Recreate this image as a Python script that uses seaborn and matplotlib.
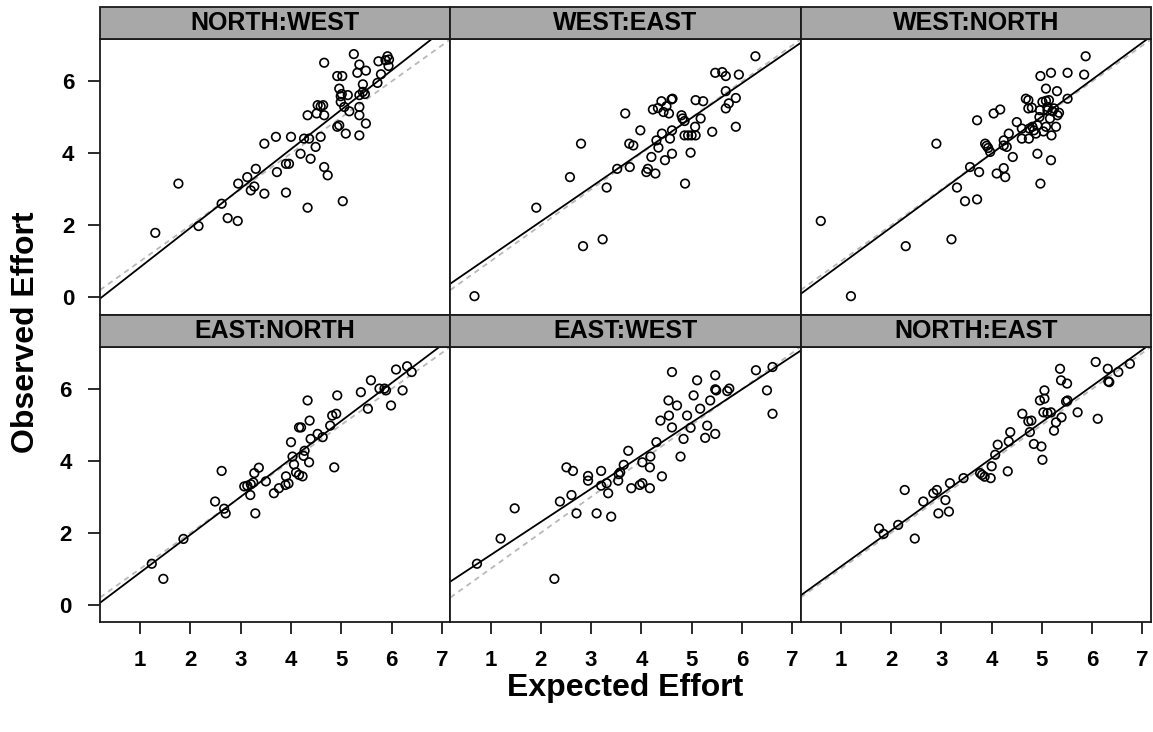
import numpy as np
import pandas as pd
import seaborn as sns
import matplotlib.pyplot as plt
from matplotlib.patches import Rectangle

# panel names, in reading order (top row, then bottom row)
panels = ["NORTH:WEST", "WEST:EAST", "WEST:NORTH",
          "EAST:NORTH", "EAST:WEST", "NORTH:EAST"]

nw_x = [1.30, 1.76, 2.16, 2.62, 2.74, 2.94, 2.95, 3.13, 3.20, 3.27, 3.30, 3.47,
        3.47, 3.70, 3.72, 3.90, 3.90, 3.96, 4.00, 4.19, 4.26, 4.36, 4.33, 4.39,
        4.49, 4.59, 4.66, 4.73, 4.33, 4.51, 4.53, 4.59, 4.64, 4.66, 4.66, 4.92,
        4.96, 5.03, 5.09, 5.36, 5.49, 5.36, 5.36, 5.16, 5.06, 4.99, 4.99, 5.01,
        4.96, 4.92, 5.02, 5.13, 5.36, 5.43, 5.43, 5.47, 5.32, 5.49, 5.36, 5.25,
        5.72, 5.79, 5.74, 5.92, 5.95, 5.94, 5.88]
nw_y = [1.79, 3.16, 1.98, 2.60, 2.20, 2.12, 3.16, 3.34, 2.97, 3.08, 3.57, 2.88,
        4.27, 4.46, 3.48, 2.91, 3.71, 3.71, 4.46, 3.99, 4.41, 4.41, 2.49, 3.85,
        4.18, 4.46, 3.62, 3.39, 5.06, 5.11, 5.34, 5.31, 5.34, 5.06, 6.52, 4.74,
        4.78, 2.67, 4.55, 4.50, 4.83, 5.06, 5.29, 5.17, 5.29, 5.43, 5.59, 5.65,
        5.80, 6.15, 6.15, 5.62, 5.62, 5.71, 5.92, 5.65, 6.24, 6.30, 6.47, 6.76,
        5.96, 6.20, 6.56, 6.70, 6.61, 6.43, 6.59]

we_x = [0.68, 1.91, 2.58, 2.80, 2.84, 3.23, 3.31, 3.52, 3.68, 3.77, 3.76, 3.84,
        3.98, 4.10, 4.13, 4.28, 4.20, 4.30, 4.34, 4.41, 4.47, 4.57, 4.61, 4.61,
        4.23, 4.33, 4.40, 4.44, 4.50, 4.55, 4.60, 4.62, 4.80, 4.82, 4.86, 4.87,
        4.86, 4.93, 5.00, 5.08, 4.98, 5.07, 5.18, 5.08, 5.23, 5.41, 5.47, 5.61,
        5.68, 5.68, 5.68, 5.74, 5.88, 5.88, 5.94, 6.27]
we_y = [0.03, 2.49, 3.34, 4.27, 1.42, 1.61, 3.05, 3.57, 5.11, 3.62, 4.27, 4.22,
        4.64, 3.48, 3.57, 3.44, 3.90, 4.36, 4.16, 4.55, 3.81, 4.41, 3.99, 4.64,
        5.22, 5.26, 5.45, 5.15, 5.31, 5.11, 5.50, 5.52, 5.06, 4.97, 4.90, 3.16,
        4.50, 4.50, 4.50, 4.50, 4.02, 4.74, 4.97, 5.48, 5.45, 4.60, 6.24, 6.26,
        6.15, 5.73, 5.25, 5.39, 5.54, 4.74, 6.19, 6.70]

wn_x = [0.60, 1.20, 2.29, 2.90, 3.20, 3.31, 3.47, 3.71, 3.57, 3.75, 3.71, 3.87,
        3.90, 3.93, 3.97, 4.04, 4.17, 4.10, 4.24, 4.27, 4.24, 4.30, 4.24, 4.34,
        4.42, 4.50, 4.60, 4.60, 4.74, 4.68, 4.73, 4.73, 4.80, 4.81, 4.84, 4.88,
        4.91, 4.95, 4.91, 4.97, 5.03, 5.01, 5.08, 5.11, 5.11, 5.14, 5.16, 5.19,
        5.18, 5.08, 5.21, 5.24, 5.28, 5.31, 5.34, 5.08, 5.30, 4.97, 5.18, 5.51,
        5.51, 5.84, 5.87, 4.96, 4.75]
wn_y = [2.12, 0.03, 1.42, 4.27, 1.61, 3.05, 2.67, 2.72, 3.62, 3.48, 4.92, 4.27,
        4.21, 4.15, 4.04, 5.11, 5.22, 3.44, 3.59, 3.34, 4.22, 4.18, 4.36, 4.55,
        3.90, 4.87, 4.69, 4.41, 4.41, 5.52, 5.48, 5.25, 5.27, 4.74, 4.64, 4.55,
        4.78, 5.01, 3.99, 3.16, 4.61, 5.43, 5.46, 5.29, 5.20, 5.48, 4.97, 4.50,
        3.81, 4.74, 5.17, 5.25, 4.74, 5.06, 5.13, 5.80, 5.73, 6.15, 6.24, 6.24,
        5.52, 6.19, 6.70, 5.20, 4.69]

en_x = [1.23, 1.46, 1.86, 2.49, 2.62, 2.67, 2.70, 3.07, 3.13, 3.20, 3.25, 3.19,
        3.27, 3.36, 3.29, 3.50, 3.66, 3.76, 3.89, 3.95, 3.90, 4.00, 4.03, 4.06,
        4.10, 4.16, 4.23, 4.25, 4.27, 4.36, 4.16, 4.20, 4.37, 4.33, 4.39, 4.53,
        4.63, 4.78, 4.82, 4.90, 4.86, 4.92, 5.39, 5.53, 5.59, 5.76, 5.86, 5.89,
        5.99, 6.09, 6.22, 6.31, 6.40]
en_y = [1.14, 0.72, 1.83, 2.87, 3.72, 2.67, 2.54, 3.29, 3.31, 3.35, 3.40, 3.05,
        3.66, 3.81, 2.54, 3.43, 3.10, 3.24, 3.33, 3.37, 3.57, 4.52, 4.12, 3.90,
        3.68, 3.61, 3.57, 4.14, 4.28, 3.96, 4.93, 4.93, 5.12, 5.68, 4.61, 4.75,
        4.66, 4.98, 5.26, 5.31, 3.82, 5.82, 5.91, 5.45, 6.24, 6.01, 6.01, 5.96,
        5.54, 6.54, 5.96, 6.63, 6.47]

ew_x = [0.73, 1.20, 1.48, 2.27, 2.38, 2.51, 2.64, 2.61, 2.71, 2.94, 2.94, 3.11,
        3.20, 3.20, 3.31, 3.34, 3.40, 3.54, 3.55, 3.58, 3.65, 3.74, 3.80, 3.97,
        4.02, 4.02, 4.17, 4.17, 4.18, 4.41, 4.30, 4.38, 4.55, 4.54, 4.61, 4.61,
        4.71, 4.78, 4.84, 4.91, 4.98, 5.04, 5.11, 5.17, 5.27, 5.31, 5.37, 5.47,
        5.47, 5.47, 5.49, 5.71, 5.75, 6.28, 6.50, 6.61, 6.61]
ew_y = [1.14, 1.84, 2.68, 0.72, 2.87, 3.82, 3.72, 3.05, 2.54, 3.58, 3.45, 2.54,
        3.72, 3.31, 3.38, 3.10, 2.45, 3.45, 3.63, 3.68, 3.89, 4.28, 3.24, 3.33,
        3.38, 3.96, 3.24, 3.82, 4.12, 3.57, 4.52, 5.12, 5.26, 5.68, 4.93, 6.47,
        5.54, 4.12, 4.61, 5.26, 4.92, 5.82, 6.24, 5.45, 4.64, 4.98, 5.68, 4.75,
        6.38, 5.99, 5.96, 5.94, 6.01, 6.52, 5.96, 6.61, 5.31]

ne_x = [1.76, 1.85, 2.14, 2.27, 2.47, 2.64, 2.84, 2.91, 2.94, 3.08, 3.15, 3.17,
        3.44, 3.77, 3.81, 3.86, 3.98, 4.00, 4.07, 4.12, 4.32, 4.34, 4.37, 4.61,
        4.73, 4.76, 4.79, 4.84, 4.99, 5.01, 4.96, 5.05, 5.05, 5.03, 5.11, 5.18,
        5.24, 5.28, 5.39, 5.36, 5.38, 5.50, 5.48, 5.51, 5.71, 6.07, 6.11, 6.31,
        6.32, 6.34, 6.52, 6.75]
ne_y = [2.12, 1.97, 2.22, 3.19, 1.84, 2.87, 3.10, 3.19, 2.54, 2.91, 2.59, 3.38,
        3.52, 3.66, 3.61, 3.56, 3.52, 3.85, 4.17, 4.45, 3.71, 4.54, 4.80, 5.31,
        5.10, 4.80, 5.12, 4.47, 4.40, 4.03, 5.68, 5.73, 5.96, 5.35, 5.33, 5.35,
        4.84, 5.07, 5.21, 6.56, 6.24, 6.15, 5.65, 5.68, 5.35, 6.75, 5.17, 6.56,
        6.21, 6.19, 6.47, 6.70]

xs = [nw_x, we_x, wn_x, en_x, ew_x, ne_x]
ys = [nw_y, we_y, wn_y, en_y, ew_y, ne_y]

df = pd.concat(
    [pd.DataFrame({"panel": p, "expected": x, "observed": y})
     for p, x, y in zip(panels, xs, ys)],
    ignore_index=True)

x_ticks = [1, 2, 3, 4, 5, 6, 7]
y_ticks = [0, 2, 4, 6]

sns.set_style("white")
plt.rcParams["font.family"] = ["Liberation Sans", "DejaVu Sans"]
plt.rcParams["font.weight"] = "bold"
plt.rcParams["text.color"] = "black"
plt.rcParams["xtick.color"] = "black"
plt.rcParams["ytick.color"] = "black"

fig, axes = plt.subplots(2, 3, figsize=(11.53, 7.32), dpi=100,
                         sharex=True, sharey=True)
strip_h = 32 / 275.5
fig.subplots_adjust(left=100 / 1153, right=1151 / 1153,
                    top=1 - 39 / 732, bottom=1 - 622 / 732,
                    wspace=0, hspace=strip_h)

for ax, name in zip(axes.flat, panels):
    sub = df[df["panel"] == name]
    ax.set_xlim(0.2, 7.17)
    ax.set_ylim(-0.48, 7.18)
    # identity line, light grey dashes
    ax.axline((0, 0), slope=1, color="#b8b8b8", lw=1.3,
              ls=(0, (3, 2.5)), zorder=1)
    sns.scatterplot(data=sub, x="expected", y="observed", ax=ax,
                    marker="o", s=38, facecolors="none",
                    edgecolor="black", linewidth=1.2, zorder=3)
    sns.regplot(data=sub, x="expected", y="observed", ax=ax,
                scatter=False, ci=None, truncate=False,
                line_kws={"color": "black", "lw": 1.3, "zorder": 2})
    ax.set_xlim(0.2, 7.17)
    ax.set_ylim(-0.48, 7.18)
    ax.set_xlabel("")
    ax.set_ylabel("")
    for sp in ax.spines.values():
        sp.set_color("#1a1a1a")
        sp.set_linewidth(1.3)
    # strip on top of each panel
    ax.add_patch(Rectangle((0, 1), 1, strip_h, transform=ax.transAxes,
                           facecolor="#a8a8a8", edgecolor="#1a1a1a",
                           lw=1.3, clip_on=False, zorder=5))
    ax.text(0.5, 1 + strip_h / 2, name, transform=ax.transAxes,
            ha="center", va="center", fontsize=18, fontweight="bold",
            color="black", zorder=6)
    ax.tick_params(left=False, bottom=False, labelleft=False,
                   labelbottom=False)

for ax in axes[:, 0]:
    ax.set_yticks(y_ticks)
    ax.tick_params(left=True, labelleft=True, direction="out", length=8.5,
                   width=1.3, labelsize=16, pad=10, color="#1a1a1a")
for ax in axes[1, :]:
    ax.set_xticks(x_ticks)
    ax.tick_params(bottom=True, labelbottom=True, direction="out",
                   length=8.5, width=1.3, labelsize=16, pad=12,
                   color="#1a1a1a")

fig.text((100 + 1151) / 2 / 1153, 1 - 688 / 732, "Expected Effort",
         ha="center", va="center", fontsize=23, fontweight="bold")
fig.text(26 / 1153, 1 - 332 / 732, "Observed Effort", rotation=90,
         ha="center", va="center", fontsize=23, fontweight="bold")

fig.savefig("out.png", dpi=100)
